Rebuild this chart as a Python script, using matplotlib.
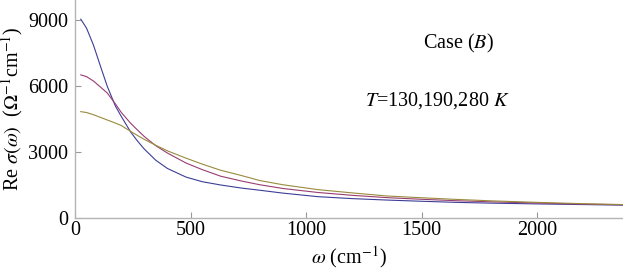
import matplotlib
matplotlib.use('Agg')
import matplotlib.pyplot as plt

# values (omega in cm^-1, Re sigma in Ohm^-1 cm^-1)
omega = [25, 50, 80, 110, 140, 175, 200, 240, 270, 300, 350, 400, 480, 550, 630,
         720, 800, 900, 1050, 1200, 1350, 1500, 1650, 1800, 2000, 2200, 2372]
sigma_130 = [9030, 8620, 7850, 6900, 5970, 5080, 4620, 3920, 3500, 3130, 2620, 2250, 1860, 1650, 1500,
             1360, 1260, 1130, 970, 880, 815, 760, 710, 675, 640, 610, 585]
sigma_190 = [6500, 6420, 6220, 5950, 5670, 5180, 4800, 4310, 4000, 3700, 3280, 2950, 2500, 2200, 1900,
             1680, 1510, 1340, 1160, 1030, 925, 850, 785, 735, 680, 630, 600]
sigma_280 = [4830, 4790, 4690, 4570, 4450, 4310, 4200, 3940, 3750, 3570, 3300, 3050, 2720, 2450, 2170,
             1930, 1700, 1510, 1290, 1140, 1000, 920, 845, 780, 710, 650, 610]

x_ticks = [0, 500, 1000, 1500, 2000]
y_ticks = [0, 3000, 6000, 9000]

colors = [(0.24, 0.24, 0.6), (0.6, 0.24, 0.443), (0.6, 0.547, 0.24)]

plt.rcParams['font.family'] = ['Liberation Serif', 'DejaVu Serif']
plt.rcParams['mathtext.fontset'] = 'stix'

fig = plt.figure(figsize=(6.23, 2.76), dpi=100)
ax = fig.add_axes([75 / 623, 58 / 276, 548 / 623, 218 / 276])

for s, c in zip([sigma_130, sigma_190, sigma_280], colors):
    ax.plot(omega, s, color=c, lw=0.8)

ax.set_xlim(0, 2372)
ax.set_ylim(0, 9900)
ax.set_xticks(x_ticks)
ax.set_yticks(y_ticks)
ax.tick_params(direction='in', length=4, width=0.8, color='#999999', labelsize=14.5)
ax.tick_params(axis='x', pad=2)
ax.tick_params(axis='y', pad=5)

for side in ['top', 'right']:
    ax.spines[side].set_visible(False)
for side in ['left', 'bottom']:
    ax.spines[side].set_color('#b4b4b4')
    ax.spines[side].set_linewidth(1.0)

ax.set_xlabel(r'$\omega$ (cm$^{-1}$)', fontsize=14.5, labelpad=3)
ax.set_ylabel(r'Re $\sigma(\omega)$  ($\Omega^{-1}$cm$^{-1}$)', fontsize=14.5, labelpad=2)

ax.text(0.70, 0.80, r'Case ($B$)', transform=ax.transAxes, fontsize=14.5, ha='center', va='center')
ax.text(0.53, 0.54, r'$T$=130,190,280 $K$', transform=ax.transAxes, fontsize=14.5, ha='left', va='center')

fig.savefig('out.png', dpi=100)
